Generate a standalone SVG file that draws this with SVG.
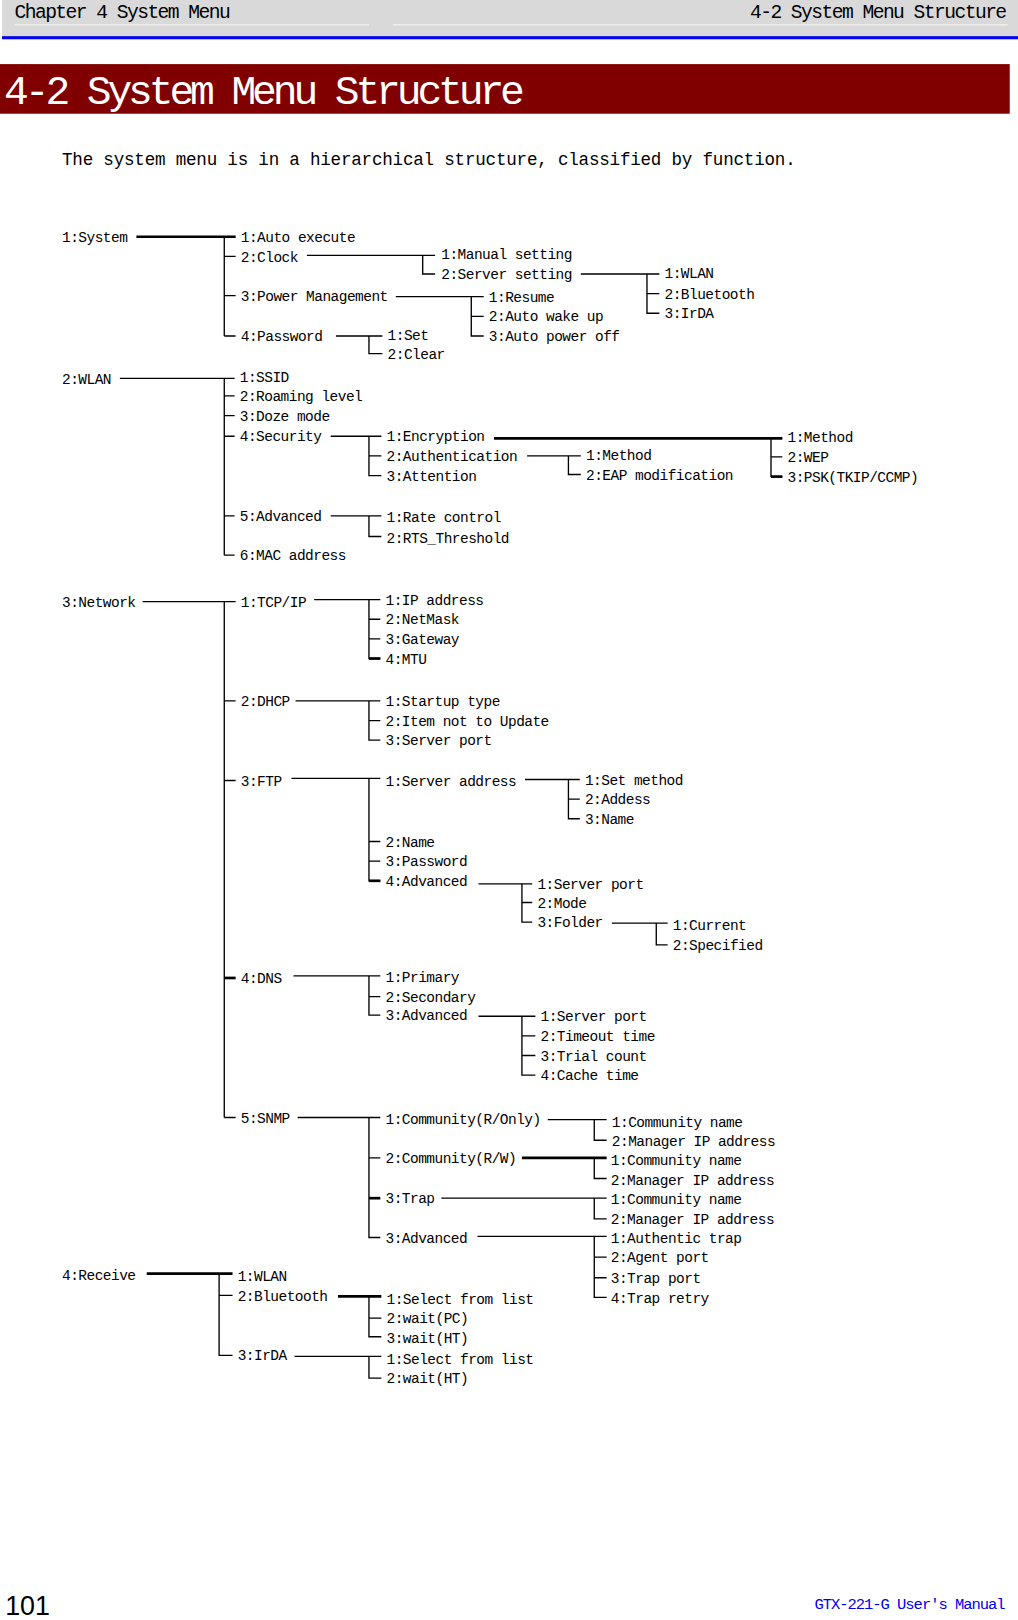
<svg xmlns="http://www.w3.org/2000/svg" width="1018" height="1620" viewBox="0 0 1018 1620">
<style>
.t{font-family:"Liberation Mono",monospace;font-size:14px;letter-spacing:-0.5px;fill:#000}
.c{fill:none;stroke:#000;stroke-width:1.3}
.k{fill:none;stroke:#000;stroke-width:2.6}
</style>
<rect width="1018" height="1620" fill="#fff"/>
<g transform="scale(1.0335 1.0338)">
<g id="header">
<rect x="2" y="0" width="983" height="36" fill="#d9d9d9"/>
<line x1="14" y1="24" x2="357" y2="24" stroke="#eee" stroke-width="1.5"/>
<line x1="380" y1="24" x2="975" y2="24" stroke="#eee" stroke-width="1.5"/>
<text x="14" y="17" font-family="Liberation Mono,monospace" font-size="19" letter-spacing="-1.5">Chapter 4 System Menu</text>
<text x="973" y="17" text-anchor="end" font-family="Liberation Mono,monospace" font-size="19" letter-spacing="-1.5">4-2 System Menu Structure</text>
<rect x="2" y="35" width="983" height="3" fill="#0000ee"/>
<rect x="0" y="62" width="977" height="48" fill="#800000"/>
<text x="4" y="101" fill="#fff" font-family="Liberation Mono,monospace" font-size="40" letter-spacing="-4">4-2 System Menu Structure</text>
<text x="60" y="160" font-family="Liberation Mono,monospace" font-size="17" letter-spacing="-0.2">The system menu is in a hierarchical structure, classified by function.</text>
</g>
<g id="connectors">
<path class="k" d="M132,229H228"/>
<path class="c" d="M217,229V325M217,248H228M217,286H228M217,325H228"/>
<path class="c" d="M297,247H421M409,247V265H421"/>
<path class="c" d="M562,265H638M626,265V303H638M626,284H638"/>
<path class="c" d="M383,287H468M456,287V325H468M456,306H468"/>
<path class="c" d="M325,325H370M357,325V342H370"/>
<path class="c" d="M116,366H227M217,366V537M217,383H227M217,402H227M217,422H227M217,499H227M217,537H227"/>
<path class="c" d="M320,422H369M357,422V460H369M357,441H369"/>
<path class="k" d="M478,424H757"/>
<path class="c" d="M746,424V461H757M746,442H757"/>
<path class="k" d="M746,461H757"/>
<path class="c" d="M510,441H562M550,441V459H562"/>
<path class="c" d="M320,499H369M357,499V519H369"/>
<path class="c" d="M138,582H228M217,582V1081M217,678H228M217,755H228M217,1081H228"/>
<path class="k" d="M217,946H228"/>
<path class="c" d="M304,580H368M357,580V637H368M357,599H368M357,618H368"/>
<path class="k" d="M357,637H368"/>
<path class="c" d="M286,678H368M357,678V716H368M357,697H368"/>
<path class="c" d="M282,753H368M357,753V852H368M357,814H368M357,833H368"/>
<path class="k" d="M357,852H368"/>
<path class="c" d="M508,754H561M550,754V792H561M550,773H561"/>
<path class="c" d="M463,855H515M505,855V892H515M505,873H515"/>
<path class="c" d="M592,893H646M635,893V914H646"/>
<path class="c" d="M284,944H368M357,944V982H368M357,964H368"/>
<path class="c" d="M463,983H518M505,983V1040H518M505,1002H518M505,1021H518"/>
<path class="c" d="M288,1081H368M357,1081V1197H368M357,1120H368M357,1197H368"/>
<path class="k" d="M357,1159H368"/>
<path class="c" d="M530,1083H587M575,1083V1103H587"/>
<path class="k" d="M505,1120H587"/>
<path class="c" d="M575,1120V1140H587"/>
<path class="c" d="M427,1159H587M575,1159V1179H587"/>
<path class="c" d="M462,1196H587M575,1196V1255H587M575,1216H587M575,1236H587"/>
<path class="k" d="M142,1232H225"/>
<path class="c" d="M212,1232V1311H225M212,1253H225"/>
<path class="k" d="M327,1254H369"/>
<path class="c" d="M357,1254V1293H369M357,1275H369"/>
<path class="c" d="M285,1312H369M357,1312V1333H369"/>
</g>
<g id="system">
<text class="t" x="60" y="234">1:System</text>
<text class="t" x="233" y="234">1:Auto execute</text>
<text class="t" x="233" y="253">2:Clock</text>
<text class="t" x="233" y="291">3:Power Management</text>
<text class="t" x="233" y="330">4:Password</text>
<text class="t" x="427" y="251">1:Manual setting</text>
<text class="t" x="427" y="270">2:Server setting</text>
<text class="t" x="643" y="269">1:WLAN</text>
<text class="t" x="643" y="289">2:Bluetooth</text>
<text class="t" x="643" y="308">3:IrDA</text>
<text class="t" x="473" y="292">1:Resume</text>
<text class="t" x="473" y="311">2:Auto wake up</text>
<text class="t" x="473" y="330">3:Auto power off</text>
<text class="t" x="375" y="329">1:Set</text>
<text class="t" x="375" y="347">2:Clear</text>
</g>
<g id="wlan">
<text class="t" x="60" y="371">2:WLAN</text>
<text class="t" x="232" y="370">1:SSID</text>
<text class="t" x="232" y="388">2:Roaming level</text>
<text class="t" x="232" y="407">3:Doze mode</text>
<text class="t" x="232" y="427">4:Security</text>
<text class="t" x="232" y="504">5:Advanced</text>
<text class="t" x="232" y="542">6:MAC address</text>
<text class="t" x="374" y="427">1:Encryption</text>
<text class="t" x="374" y="446">2:Authentication</text>
<text class="t" x="374" y="465">3:Attention</text>
<text class="t" x="762" y="428">1:Method</text>
<text class="t" x="762" y="447">2:WEP</text>
<text class="t" x="762" y="466">3:PSK(TKIP/CCMP)</text>
<text class="t" x="567" y="445">1:Method</text>
<text class="t" x="567" y="464">2:EAP modification</text>
<text class="t" x="374" y="505">1:Rate control</text>
<text class="t" x="374" y="525">2:RTS_Threshold</text>
</g>
<g id="network">
<text class="t" x="60" y="587">3:Network</text>
<text class="t" x="233" y="587">1:TCP/IP</text>
<text class="t" x="233" y="683">2:DHCP</text>
<text class="t" x="233" y="760">3:FTP</text>
<text class="t" x="233" y="951">4:DNS</text>
<text class="t" x="233" y="1086">5:SNMP</text>
<text class="t" x="373" y="585">1:IP address</text>
<text class="t" x="373" y="604">2:NetMask</text>
<text class="t" x="373" y="623">3:Gateway</text>
<text class="t" x="373" y="642">4:MTU</text>
<text class="t" x="373" y="683">1:Startup type</text>
<text class="t" x="373" y="702">2:Item not to Update</text>
<text class="t" x="373" y="721">3:Server port</text>
<text class="t" x="373" y="760">1:Server address</text>
<text class="t" x="373" y="819">2:Name</text>
<text class="t" x="373" y="838">3:Password</text>
<text class="t" x="373" y="857">4:Advanced</text>
<text class="t" x="566" y="759">1:Set method</text>
<text class="t" x="566" y="778">2:Addess</text>
<text class="t" x="566" y="797">3:Name</text>
<text class="t" x="520" y="860">1:Server port</text>
<text class="t" x="520" y="878">2:Mode</text>
<text class="t" x="520" y="897">3:Folder</text>
<text class="t" x="651" y="900">1:Current</text>
<text class="t" x="651" y="919">2:Specified</text>
<text class="t" x="373" y="950">1:Primary</text>
<text class="t" x="373" y="969">2:Secondary</text>
<text class="t" x="373" y="987">3:Advanced</text>
<text class="t" x="523" y="988">1:Server port</text>
<text class="t" x="523" y="1007">2:Timeout time</text>
<text class="t" x="523" y="1026">3:Trial count</text>
<text class="t" x="523" y="1045">4:Cache time</text>
<text class="t" x="373" y="1087">1:Community(R/Only)</text>
<text class="t" x="373" y="1125">2:Community(R/W)</text>
<text class="t" x="373" y="1164">3:Trap</text>
<text class="t" x="373" y="1202">3:Advanced</text>
<text class="t" x="592" y="1090">1:Community name</text>
<text class="t" x="592" y="1109">2:Manager IP address</text>
<text class="t" x="591" y="1127">1:Community name</text>
<text class="t" x="591" y="1146">2:Manager IP address</text>
<text class="t" x="591" y="1165">1:Community name</text>
<text class="t" x="591" y="1184">2:Manager IP address</text>
<text class="t" x="591" y="1202">1:Authentic trap</text>
<text class="t" x="591" y="1221">2:Agent port</text>
<text class="t" x="591" y="1241">3:Trap port</text>
<text class="t" x="591" y="1260">4:Trap retry</text>
</g>
<g id="receive">
<text class="t" x="60" y="1238">4:Receive</text>
<text class="t" x="230" y="1239">1:WLAN</text>
<text class="t" x="230" y="1258">2:Bluetooth</text>
<text class="t" x="230" y="1316">3:IrDA</text>
<text class="t" x="374" y="1261">1:Select from list</text>
<text class="t" x="374" y="1280">2:wait(PC)</text>
<text class="t" x="374" y="1299">3:wait(HT)</text>
<text class="t" x="374" y="1319">1:Select from list</text>
<text class="t" x="374" y="1338">2:wait(HT)</text>
</g>
<g id="footer">
<text x="5" y="1562" font-family="Liberation Sans,sans-serif" font-size="26">101</text>
<text x="972" y="1556" text-anchor="end" fill="#0000ee" font-family="Liberation Mono,monospace" font-size="15" letter-spacing="-1">GTX-221-G User's Manual</text>
</g>
</g>
</svg>
